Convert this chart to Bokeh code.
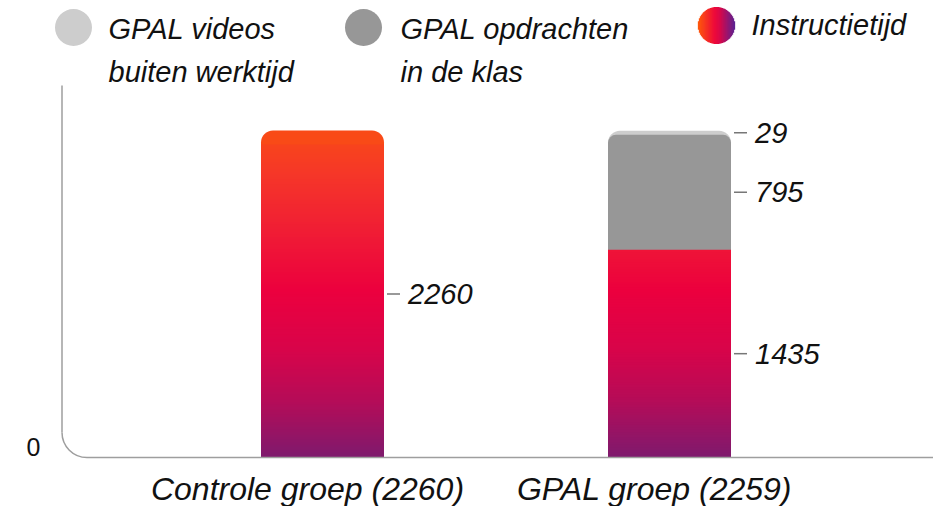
import numpy as np
from bokeh.plotting import figure
from bokeh.models import Range1d, ColumnDataSource
from bokeh.core.properties import value
from bokeh.embed import file_html
from bokeh.resources import INLINE

# ---------------- data ----------------
categories = ["Controle groep (2260)", "GPAL groep (2259)"]
instructietijd = [2260, 1435]
opdrachten = [0, 795]
videos = [0, 29]
zero_label = "0"
legend_lines = [["GPAL videos", "buiten werktijd"],
                ["GPAL opdrachten", "in de klas"],
                ["Instructietijd"]]

# ---------------- styles / layout ----------------
W, H = 933, 506
X0_PX, DX_PX = 322.0, 347.0       # pixel of first category centre, spacing
BASE_PX, TOP_PX = 457.0, 130.0     # pixel of y=0 and of the largest total
BAR_PX = 123.0
FONT = value("Liberation Sans")
TXT = "#111111"
AXIS_C = "#9E9E9E"
C_VIDEOS = "#CDCDCD"
C_OPDR = "#979797"
grad_f = [0.0, 0.17, 0.33, 0.51, 0.70, 0.85, 1.0]
grad_c = ["#7E1A6E", "#B40C58", "#D8044A", "#EC003E", "#F01E34", "#F5342A", "#F94A17"]
leg_f = [0.0, 0.45, 0.6, 1.0]
leg_c = ["#FF5A0A", "#EE0A3A", "#D8084A", "#5A2292"]


def hex2rgb(h):
    h = h.lstrip("#")
    return np.array([int(h[i:i + 2], 16) for i in (0, 2, 4)], dtype=float)


def grad(f, fs, cs):
    rgb = np.array([hex2rgb(c) for c in cs])
    out = [np.interp(f, fs, rgb[:, k]) for k in range(3)]
    return "#%02x%02x%02x" % tuple(int(round(v)) for v in out)


totals = [a + b + c for a, b, c in zip(instructietijd, opdrachten, videos)]
YMAX = max(totals)
sx = DX_PX
sy = (BASE_PX - TOP_PX) / YMAX
bw = BAR_PX / sx
xs = list(range(len(categories)))

p = figure(width=W, height=H, output_backend="svg", toolbar_location=None,
           x_range=Range1d(-X0_PX / sx, (W - X0_PX) / sx),
           y_range=Range1d(-(H - BASE_PX) / sy, BASE_PX / sy),
           x_axis_type=None, y_axis_type=None, min_border=0,
           outline_line_color=None, background_fill_color="white",
           border_fill_color="white")
p.grid.visible = False
p.extra_x_ranges = {"px": Range1d(0, W)}
p.extra_y_ranges = {"py": Range1d(H, 0)}
PX = dict(x_range_name="px", y_range_name="py")

# ---------------- bars ----------------
R_TOP = 12
for i in xs:
    if videos[i] > 0:
        cap_c = C_VIDEOS
    elif opdrachten[i] > 0:
        cap_c = C_OPDR
    else:
        cap_c = grad(1.0 * totals[i] / YMAX, grad_f, grad_c)
    p.vbar(x=i, width=bw, bottom=0, top=totals[i], fill_color=cap_c, line_color=None,
           border_radius=dict(top_left=R_TOP, top_right=R_TOP, bottom_right=0, bottom_left=0))
    if opdrachten[i] > 0:
        r = 8 if videos[i] > 0 else R_TOP
        p.vbar(x=i, width=bw, bottom=0, top=instructietijd[i] + opdrachten[i],
               fill_color=C_OPDR, line_color=None,
               border_radius=dict(top_left=r, top_right=r, bottom_right=0, bottom_left=0))

# gradient instruction-time segments, drawn as nested slices
step = 2.5 / sy
sl_x, sl_top, sl_c = [], [], []
for i in xs:
    topmost = opdrachten[i] == 0 and videos[i] == 0
    limit = instructietijd[i] - (14 / sy if topmost else 0)
    t = limit
    while t > 0:
        sl_x.append(i)
        sl_top.append(t)
        sl_c.append(grad(max(t - step / 2, 0) / YMAX, grad_f, grad_c))
        t -= step
p.vbar(x="x", top="top", bottom=0, width=bw, fill_color="c", line_color=None,
       source=ColumnDataSource(dict(x=sl_x, top=sl_top, c=sl_c)))

# ---------------- value labels ----------------
lx, ly, lt = [], [], []
for i in xs:
    b = 0
    for v in (instructietijd[i], opdrachten[i], videos[i]):
        if v > 0:
            lx.append(i + bw / 2)
            ly.append(b + v / 2)
            lt.append(str(v))
        b += v
p.segment(x0=[x + 3 / sx for x in lx], x1=[x + 16 / sx for x in lx], y0=ly, y1=ly,
          line_color="#777777", line_width=1.5)
p.text(x=lx, y=ly, text=lt, x_offset=24, text_baseline="middle", text_align="left",
       text_font=FONT, text_font_style="italic", text_font_size="29px", text_color=TXT)

# category labels
p.text(x=xs, y=[0] * len(xs), text=categories, x_offset=-15, y_offset=31,
       text_align="center", text_baseline="middle", text_font=FONT,
       text_font_style="italic", text_font_size="32px", text_color=TXT)

# ---------------- axis lines (rounded corner) ----------------
AX = 61.5
RC = 25
p.line(x=[AX, AX], y=[85, BASE_PX - RC], line_color=AXIS_C, line_width=1.5, **PX)
k = 0.5523 * RC
p.bezier(x0=AX, y0=BASE_PX - RC, x1=AX + RC, y1=BASE_PX, cx0=AX, cy0=BASE_PX - RC + k,
         cx1=AX + RC - k, cy1=BASE_PX, line_color=AXIS_C, line_width=1.5, **PX)
p.line(x=[AX + RC, W], y=[BASE_PX, BASE_PX], line_color=AXIS_C, line_width=1.5, **PX)
p.text(x=[33], y=[446], text=[zero_label], text_align="center", text_baseline="middle",
       text_font=FONT, text_font_size="25px", text_color=TXT, **PX)

# ---------------- legend ----------------
leg_cx = [73, 363, 716]
leg_cy = [27, 27, 25]
leg_tx = [108, 400, 751]
p.scatter(x=leg_cx[:2], y=leg_cy[:2], size=37, marker="circle",
          fill_color=[C_VIDEOS, C_OPDR], line_color=None, **PX)
rr = 18.5
gx, gh, gc = [], [], []
for dx in np.arange(-rr + 0.5, rr, 1.0):
    gx.append(leg_cx[2] + dx)
    gh.append(2 * np.sqrt(rr ** 2 - dx ** 2))
    gc.append(grad((dx + rr) / (2 * rr), leg_f, leg_c))
p.rect(x=gx, y=[leg_cy[2]] * len(gx), width=1.3, height=gh, fill_color=gc,
       line_color=None, **PX)
tx, ty, tt = [], [], []
for j, lines in enumerate(legend_lines):
    for n, s in enumerate(lines):
        tx.append(leg_tx[j])
        ty.append((28 if j < 2 else 24) + 43 * n)
        tt.append(s)
p.text(x=tx, y=ty, text=tt, text_align="left", text_baseline="middle",
       text_font=FONT, text_font_style="italic", text_font_size="29px",
       text_color=TXT, **PX)

open("out.html", "w").write(file_html(p, INLINE))
